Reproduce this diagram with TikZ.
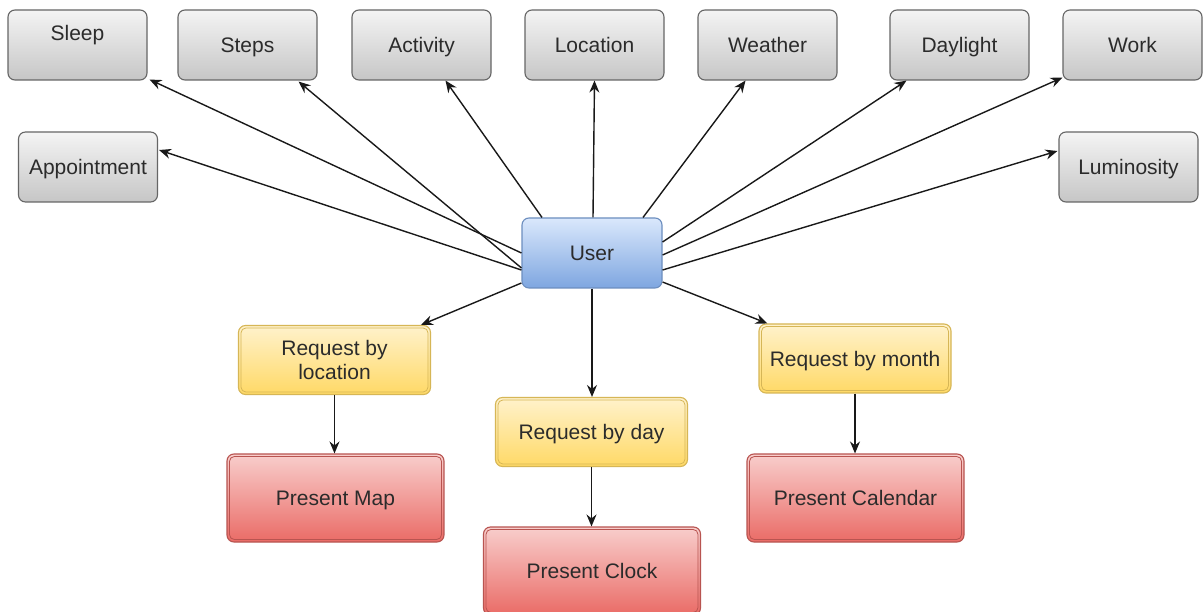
\documentclass[tikz,border=0pt]{standalone}
\usepackage{fontspec}
\setmainfont{Liberation Sans}
\usetikzlibrary{arrows.meta}
\definecolor{grayt}{HTML}{F4F4F4}
\definecolor{graybot}{HTML}{C6C6C6}
\definecolor{grayb}{HTML}{666666}
\definecolor{usert}{HTML}{DAE8FC}
\definecolor{userbot}{HTML}{7EA6E0}
\definecolor{userb}{HTML}{6C8EBF}
\definecolor{yelt}{HTML}{FFF2CC}
\definecolor{yelbot}{HTML}{FFD966}
\definecolor{yelb}{HTML}{D6B656}
\definecolor{redt}{HTML}{F8CECC}
\definecolor{redbot}{HTML}{EA6B66}
\definecolor{redb}{HTML}{B85450}
\definecolor{txt}{HTML}{2B2B2B}
\begin{document}
\begin{tikzpicture}[x=1pt,y=-1pt,
  base/.style={rounded corners=7pt, line width=1.1pt, inner sep=0pt, align=center,
    font=\fontsize{21}{24}\selectfont, text=txt, text height=16pt, text depth=0.5pt},
  graybox/.style={base, draw=grayb, top color=grayt, bottom color=graybot,
    minimum width=139pt, minimum height=70pt},
  userbox/.style={base, draw=userb, top color=usert, bottom color=userbot,
    minimum width=140pt, minimum height=70pt},
  yelbox/.style={base, draw=yelb, top color=yelt, bottom color=yelbot,
    minimum width=192pt, minimum height=69pt},
  redbox/.style={base, draw=redb, top color=redt, bottom color=redbot,
    minimum width=217pt, minimum height=88pt},
  conn/.style={-{Stealth[length=12pt,width=10pt,inset=4pt]}, line width=1.4pt, draw=black!90}
]
\useasboundingbox (0,0) rectangle (1203,612);
\fill[white] (0,0) rectangle (1203,612);

% top row
\node[graybox, text height=15pt, text depth=24pt] (sleep) at (77.5,45) {Sleep};
\node[graybox] (steps) at (247.5,45) {Steps};
\node[graybox] (activity) at (421.5,45) {Activity};
\node[graybox] (location) at (594.5,45) {Location};
\node[graybox] (weather) at (767.5,45) {Weather};
\node[graybox] (daylight) at (959.5,45) {Daylight};
\node[graybox] (work) at (1132.5,45) {Work};
\node[graybox] (appointment) at (88,167) {Appointment};
\node[graybox] (luminosity) at (1128.5,167) {Luminosity};

% user
\node[userbox] (user) at (592,253) {User};

% requests
\node[yelbox, text height={}, text depth={}] (rloc) at (334.5,360) {Request by\\location};
\node[yelbox] (rday) at (591.5,432) {Request by day};
\node[yelbox] (rmonth) at (855,358.5) {Request by month};

% presents
\node[redbox] (map) at (335.5,498) {Present Map};
\node[redbox] (clock) at (592,571) {Present Clock};
\node[redbox] (calendar) at (855.5,498) {Present Calendar};

% inner borders of double boxes
\foreach \n in {rloc,rday,rmonth}
  \draw[yelb, line width=0.8pt, rounded corners=5pt]
    ([shift={(3,3)}]\n.north west) rectangle ([shift={(-3,-3)}]\n.south east);
\foreach \n in {map,clock,calendar}
  \draw[redb, line width=0.8pt, rounded corners=5pt]
    ([shift={(3,3)}]\n.north west) rectangle ([shift={(-3,-3)}]\n.south east);

% connectors
\draw[conn] (user.west) -- ([shift={(2,-1)}]sleep.south east);
\draw[conn] ([yshift=-15pt]user.west) -- ([xshift=-19pt,yshift=-1pt]steps.south east);
\draw[conn] ([xshift=-50pt]user.north) -- ([xshift=24pt]activity.south);
\draw[conn] ([xshift=1pt]user.north) -- (location.south);
\draw[conn] ([xshift=51pt]user.north) -- ([xshift=-22pt]weather.south);
\draw[conn] ([yshift=11pt]user.east) -- ([xshift=-53pt]daylight.south);
\draw[conn] ([yshift=-2pt]user.east) -- ([yshift=3pt]work.south west);
\draw[conn] ([yshift=-17pt]user.west) -- ([shift={(1,-17)}]appointment.east);
\draw[conn] ([yshift=-17pt]user.east) -- ([shift={(-1,-16)}]luminosity.west);
\draw[conn] ([yshift=-30pt]user.west) -- ([xshift=-10pt]rloc.north east);
\draw[conn] (user.south) -- (user.south |- rday.north);
\draw[conn] ([yshift=-29pt]user.east) -- ([xshift=9pt]rmonth.north west);
\draw[conn] (rloc.south) -- (rloc.south |- map.north);
\draw[conn] (rday.south) -- (rday.south |- clock.north);
\draw[conn] (rmonth.south) -- (rmonth.south |- calendar.north);
\end{tikzpicture}
\end{document}
